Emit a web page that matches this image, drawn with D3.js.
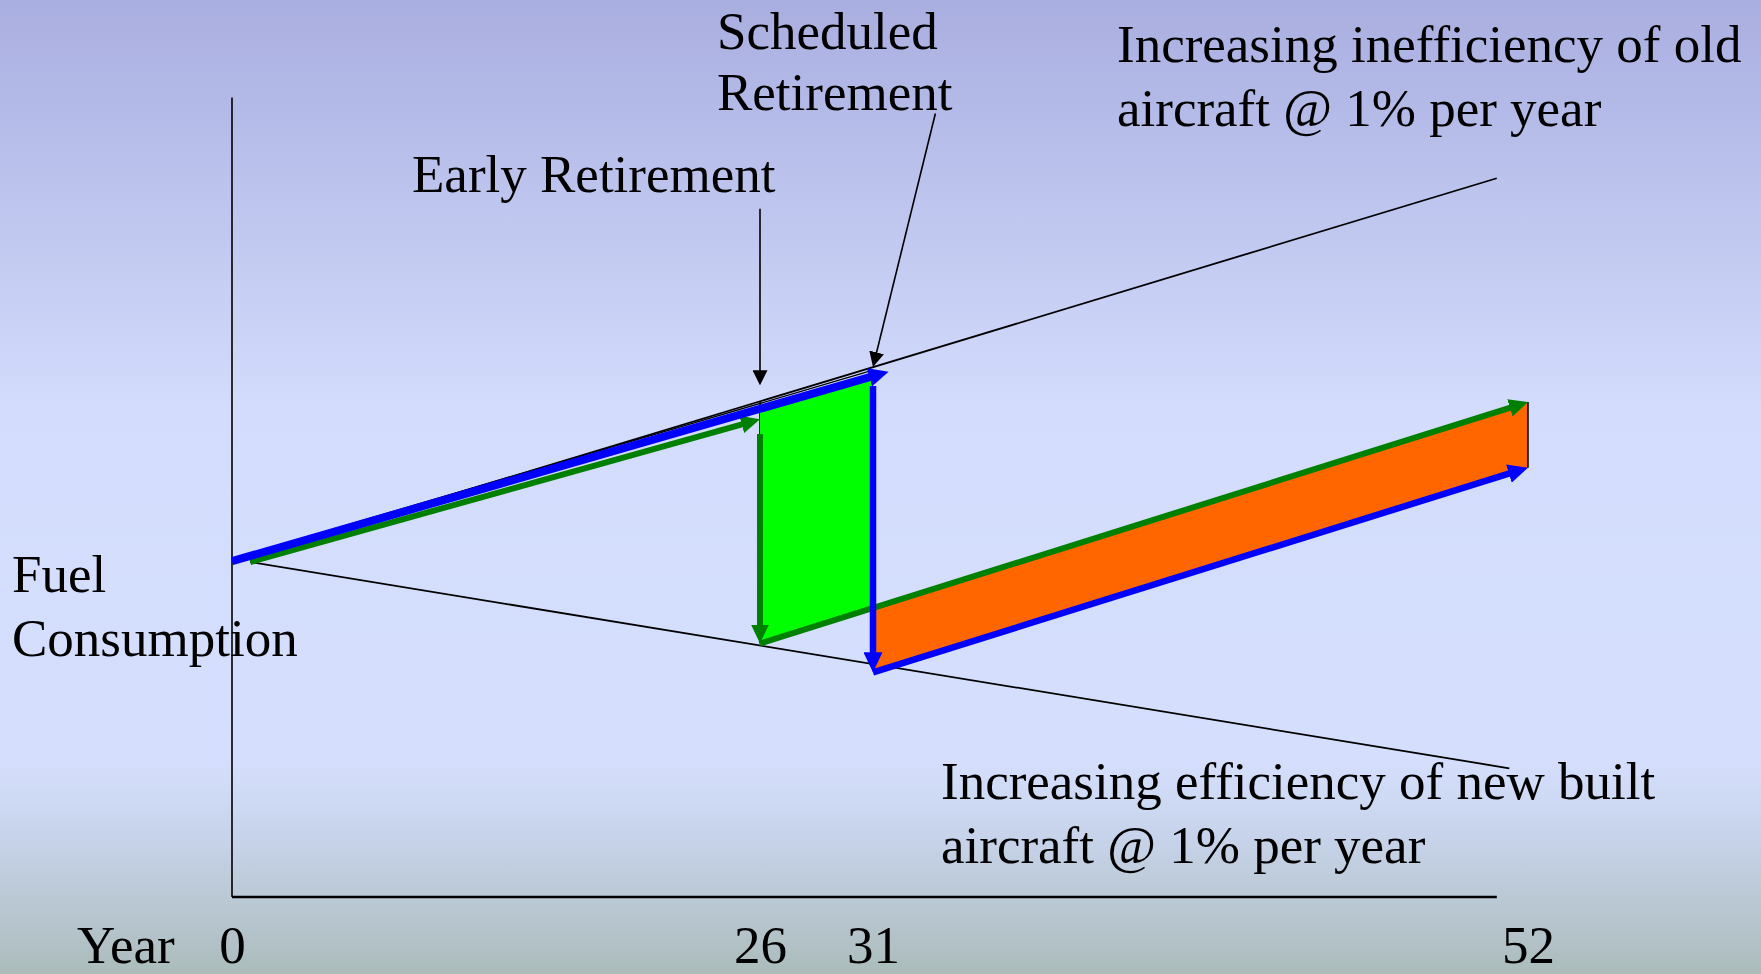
<!DOCTYPE html>
<html>
<head>
<meta charset="utf-8">
<script src="https://cdn.jsdelivr.net/npm/d3@7"></script>
<style>
  html, body { margin: 0; padding: 0; overflow: hidden; }
  svg { display: block; }
  text { font-family: "Liberation Serif", "Times New Roman", serif; fill: #000; }
</style>
</head>
<body>
<script>
// ---------------- data (years, fuel-consumption index) ----------------
const tickYears = [0, 26, 31, 52];
const tickLabels = ["0", "26", "31", "52"];
const axisEndYear = 51;
const fuelAxisMax = 100;

// trend lines
const oldTrend = [[0, 42], [51, 89.9]];          // increasing inefficiency of old aircraft
const oldTrendInner = [[0, 42.3], [31, 65.9]];    // second thin line to scheduled retirement
const newTrend = [[0.9, 41.9], [51.4, 16.1]];     // increasing efficiency of new built aircraft
const earlyMarker = [[26, 62], [26, 31.7]];

// blue path: keep old aircraft until scheduled retirement
const blueOld = [[0, 42], [31.5, 65.7]];
const blueDrop = [[31, 63.9], [31, 28.1]];
const blueNew = [[31, 28.1], [52, 53.7]];

// green path: early retirement
const greenOld = [[0.9, 41.9], [26, 59.75]];
const greenDrop = [[26, 57.9], [26, 31.7]];
const greenNew = [[26, 31.7], [52, 61.9]];

// fill areas
const savingArea = [[26, 61.0], [31, 65.1], [31, 36.1], [26, 31.7]];
const penaltyArea = [[31, 36.1], [52, 61.9], [52, 53.7], [31, 28.1]];
const penaltyEdge = [[52, 61.9], [52, 53.7]];

// annotation pointers
const earlyPointer = [[26, 86.1], [26, 64]];
const scheduledPointer = [[33.0, 98], [31, 66.3]];

// texts
const labelScheduled = ["Scheduled", "Retirement"];
const labelEarly = ["Early Retirement"];
const labelOld = ["Increasing inefficiency of old", "aircraft @ 1% per year"];
const labelNew = ["Increasing efficiency of new built", "aircraft @ 1% per year"];
const labelFuel = ["Fuel", "Consumption"];
const labelYear = "Year";

// ---------------- layout ----------------
const W = 1761, H = 974;
const FS = 53;
const svg = d3.select("body").append("svg").attr("width", W).attr("height", H);

const defs = svg.append("defs");
const grad = defs.append("linearGradient").attr("id", "bg")
  .attr("x1", 0).attr("y1", 0).attr("x2", 0).attr("y2", 1);
[[0, "#a9aee0"], [0.42, "#d3dcfc"], [0.78, "#d5dffd"], [0.86, "#c7d3ea"], [1, "#abbcbb"]]
  .forEach(([o, c]) => grad.append("stop").attr("offset", o).attr("stop-color", c));
svg.append("rect").attr("width", W).attr("height", H).attr("fill", "url(#bg)");

const x = d3.scaleLinear().domain([0, 26, 31, 52]).range([232, 760, 873, 1528]);
const y = d3.scaleLinear().domain([0, fuelAxisMax]).range([897, 97.5]);

function marker(id, color, len, half) {
  defs.append("marker").attr("id", id)
    .attr("markerUnits", "userSpaceOnUse")
    .attr("viewBox", `0 ${-half} ${len} ${2 * half}`)
    .attr("markerWidth", len).attr("markerHeight", 2 * half)
    .attr("refX", len).attr("refY", 0)
    .attr("orient", "auto")
    .append("path").attr("d", `M0,${-half}L${len},0L0,${half}Z`).attr("fill", color);
}
marker("ab", "#0000ff", 20, 9.5);
marker("ag", "#008000", 19, 9);
marker("ak", "#000000", 15, 7.5);

const px = p => [x(p[0]), y(p[1])];

function seg(pts, color, width, arrowId, headLen) {
  let [a, b] = pts.map(px);
  let end = b;
  if (arrowId) {
    const dx = b[0] - a[0], dy = b[1] - a[1], L = Math.hypot(dx, dy);
    const s = Math.max(0, headLen - 4) / L;
    end = [b[0] - dx * s, b[1] - dy * s];
  }
  svg.append("line")
    .attr("x1", a[0]).attr("y1", a[1]).attr("x2", end[0]).attr("y2", end[1])
    .attr("stroke", color).attr("stroke-width", width);
  if (arrowId) {
    svg.append("line")
      .attr("x1", a[0]).attr("y1", a[1]).attr("x2", b[0]).attr("y2", b[1])
      .attr("stroke", "none").attr("marker-end", `url(#${arrowId})`);
  }
}

const area = d3.line().x(d => x(d[0])).y(d => y(d[1]));

// axes
svg.append("line").attr("x1", x(0)).attr("x2", x(0)).attr("y1", y(fuelAxisMax)).attr("y2", y(0))
  .attr("stroke", "#000").attr("stroke-width", 1.6);
svg.append("line").attr("x1", x(0)).attr("x2", x(axisEndYear)).attr("y1", y(0)).attr("y2", y(0))
  .attr("stroke", "#000").attr("stroke-width", 2.6);

const xAxis = d3.axisBottom(x).tickValues(tickYears).tickFormat((d, i) => tickLabels[i]).tickSize(0);
const gx = svg.append("g").attr("transform", `translate(0,${y(0)})`).call(xAxis);
gx.select(".domain").remove();
gx.selectAll("text")
  .attr("y", 66).attr("dy", 0)
  .style("font-family", '"Liberation Serif", "Times New Roman", serif')
  .style("font-size", FS + "px").attr("fill", "#000");

// trend lines
seg(earlyMarker, "#000", 1.6);
seg(oldTrend, "#000", 1.8);
seg(oldTrendInner, "#000", 1.3);
seg(newTrend, "#000", 1.8);

// fills
svg.append("path").attr("d", area(savingArea) + "Z").attr("fill", "#00ff00");
svg.append("path").attr("d", area(penaltyArea) + "Z").attr("fill", "#ff6600");
seg(penaltyEdge, "#000", 1.5);

// green path
seg(greenOld, "#008000", 6, "ag", 19);
seg(greenDrop, "#008000", 6, "ag", 19);
seg(greenNew, "#008000", 6, "ag", 19);

// blue path
seg(blueOld, "#0000ff", 8, "ab", 20);
seg(blueDrop, "#0000ff", 6.5, "ab", 20);
seg(blueNew, "#0000ff", 6.5, "ab", 20);

// pointers
seg(earlyPointer, "#000", 1.6, "ak", 15);
seg(scheduledPointer, "#000", 1.6, "ak", 15);

// texts
function block(lines, x0, y0, lh) {
  const t = svg.append("text").attr("x", x0).attr("y", y0).style("font-size", FS + "px");
  lines.forEach((s, i) => t.append("tspan").attr("x", x0).attr("y", y0 + i * lh).text(s));
}
block(labelScheduled, 717, 49, 61);
block(labelEarly, 412, 192, 63.5);
block(labelOld, 1117, 62, 63.5);
block(labelNew, 941, 799, 63.5);
block(labelFuel, 12, 592, 63.5);
svg.append("text").attr("x", 77).attr("y", 963).style("font-size", FS + "px").text(labelYear);
</script>
</body>
</html>
